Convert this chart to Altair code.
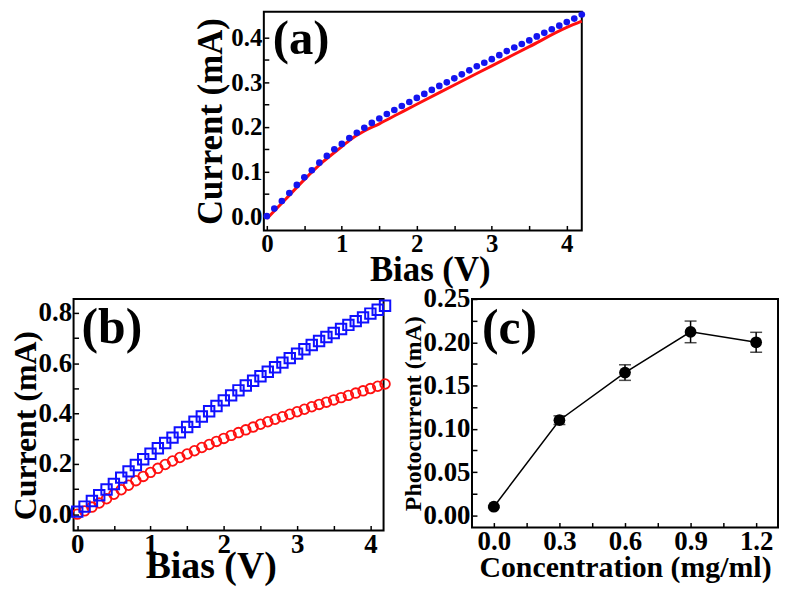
import altair as alt
import pandas as pd

FONT = "Liberation Serif"

# ---------------- Panel (a) data ----------------
a_bias = [0.0, 0.1, 0.2, 0.3, 0.4, 0.5, 0.6, 0.7, 0.8, 0.9, 1.0, 1.1, 1.2, 1.3, 1.4,
          1.5, 1.6, 1.7, 1.8, 1.9, 2.0, 2.1, 2.2, 2.3, 2.4, 2.5, 2.6, 2.7, 2.8, 2.9,
          3.0, 3.1, 3.2, 3.3, 3.4, 3.5, 3.6, 3.7, 3.8, 3.9, 4.0, 4.1, 4.2]
a_dots = [0.000, 0.017, 0.034, 0.052, 0.070, 0.087, 0.103, 0.120, 0.135, 0.150,
          0.162, 0.175, 0.187, 0.198, 0.209, 0.219, 0.229, 0.238, 0.247, 0.256,
          0.265, 0.274, 0.283, 0.292, 0.300, 0.309, 0.318, 0.327, 0.336, 0.344,
          0.352, 0.361, 0.370, 0.378, 0.386, 0.394, 0.403, 0.411, 0.419, 0.427,
          0.435, 0.443, 0.452]
a_fit_bias = [0.0, 0.25, 0.5, 0.75, 1.0, 1.15, 1.3, 1.5, 1.75, 2.0, 2.5, 3.0, 3.5, 4.0, 4.2]
a_fit = [-0.006, 0.038, 0.082, 0.122, 0.156, 0.176, 0.191, 0.207, 0.229, 0.251,
         0.294, 0.337, 0.380, 0.423, 0.437]

# ---------------- Panel (b) data ----------------
b_bias = a_bias
b_squares = [0.010, 0.030, 0.052, 0.075, 0.098, 0.120, 0.145, 0.170, 0.195, 0.218,
             0.240, 0.262, 0.283, 0.304, 0.325, 0.346, 0.367, 0.388, 0.409, 0.430,
             0.452, 0.472, 0.492, 0.511, 0.530, 0.548, 0.566, 0.584, 0.602, 0.620,
             0.638, 0.655, 0.672, 0.688, 0.704, 0.720, 0.736, 0.752, 0.767, 0.782,
             0.797, 0.812, 0.828]
b_circles = [0.000, 0.013, 0.028, 0.044, 0.061, 0.079, 0.097, 0.115, 0.133, 0.150,
             0.166, 0.182, 0.197, 0.211, 0.225, 0.239, 0.252, 0.265, 0.277, 0.289,
             0.301, 0.313, 0.324, 0.335, 0.346, 0.357, 0.367, 0.377, 0.387, 0.397,
             0.407, 0.417, 0.427, 0.436, 0.445, 0.454, 0.463, 0.472, 0.481, 0.490,
             0.499, 0.508, 0.517]

# ---------------- Panel (c) data ----------------
c_conc = [0.0, 0.3, 0.6, 0.9, 1.2]
c_photo = [0.010, 0.110, 0.165, 0.212, 0.200]
c_err = [0.001, 0.005, 0.009, 0.0125, 0.0115]

# tick values (major + minor)
a_xticks = [0, 0.5, 1, 1.5, 2, 2.5, 3, 3.5, 4]
a_yticks = [0, 0.05, 0.1, 0.15, 0.2, 0.25, 0.3, 0.35, 0.4]
b_xticks = [0, 0.5, 1, 1.5, 2, 2.5, 3, 3.5, 4]
b_yticks = [0, 0.1, 0.2, 0.3, 0.4, 0.5, 0.6, 0.7, 0.8]
c_xticks = [0, 0.15, 0.3, 0.45, 0.6, 0.75, 0.9, 1.05, 1.2]
c_yticks = [0, 0.025, 0.05, 0.075, 0.1, 0.125, 0.15, 0.175, 0.2, 0.225, 0.25]


def axis(values, expr, title, lsize, tsize, lpad, tpad, **kw):
    return alt.Axis(values=values, labelExpr=expr, title=title, grid=False,
                    domain=False, ticks=True, tickSize=5, offset=-5,
                    tickColor="black", tickWidth=1.5,
                    labelFont=FONT, labelFontWeight="bold", labelFontSize=lsize,
                    labelColor="black", labelPadding=lpad, labelAngle=0,
                    labelFlush=False, labelOverlap=False,
                    titleFont=FONT, titleFontWeight="bold", titleFontSize=tsize,
                    titleColor="black", titlePadding=tpad, **kw)


def panel_label(txt, x, y, size=50):
    return alt.Chart(pd.DataFrame({"t": [txt]})).mark_text(
        align="left", baseline="alphabetic", font=FONT, fontWeight="bold",
        fontSize=size, color="black").encode(x=alt.value(x), y=alt.value(y), text="t:N")


# ---------------- Panel (a) ----------------
aX = alt.X("x:Q", scale=alt.Scale(domain=[-0.04, 4.2], nice=False, zero=False),
           axis=axis(a_xticks, "datum.value % 1 == 0 ? format(datum.value, 'd') : ''",
                     "Bias (V)", 25, 35, 1, -4, titleX=167))
aY = alt.Y("y:Q", scale=alt.Scale(domain=[-0.032, 0.458], nice=False, zero=False),
           axis=axis(a_yticks, "round(datum.value*100) % 10 == 0 ? format(datum.value, '.1f') : ''",
                     "Current (mA)", 25, 35, 2, 2))

a_fit_df = pd.DataFrame({"x": a_fit_bias, "y": a_fit})
a_dot_df = pd.DataFrame({"x": a_bias, "y": a_dots})

a_line = alt.Chart(a_fit_df).mark_line(color="#ff1010", strokeWidth=3,
                                       interpolate="monotone").encode(x=aX, y=aY)
a_pts = alt.Chart(a_dot_df).mark_circle(color="#1414f0", size=45, opacity=1).encode(x=aX, y=aY)
panel_a = alt.layer(a_line, a_pts, panel_label("(a)", 9, 42, 49)).properties(width=320, height=220)

# ---------------- Panel (b) ----------------
bX = alt.X("x:Q", scale=alt.Scale(domain=[-0.05, 4.18], nice=False, zero=False),
           axis=axis(b_xticks, "datum.value % 1 == 0 ? format(datum.value, 'd') : ''",
                     "Bias (V)", 27, 38, 1, -10, titleX=138))
bY = alt.Y("y:Q", scale=alt.Scale(domain=[-0.065, 0.855], nice=False, zero=False),
           axis=axis(b_yticks, "round(datum.value*10) % 2 == 0 ? format(datum.value, '.1f') : ''",
                     "Current (mA)", 27, 32, 2, -4, titleY=127))

b_sq_df = pd.DataFrame({"x": b_bias, "y": b_squares})
b_ci_df = pd.DataFrame({"x": b_bias, "y": b_circles})

b_sq = alt.Chart(b_sq_df).mark_point(shape="square", filled=False, color="#1010ff",
                                     strokeWidth=2, size=110, opacity=1).encode(x=bX, y=bY)
b_ci = alt.Chart(b_ci_df).mark_point(shape="circle", filled=False, color="#ff1010",
                                     strokeWidth=1.8, size=95, opacity=1).encode(x=bX, y=bY)
panel_b = alt.layer(b_ci, b_sq, panel_label("(b)", 8, 44)).properties(width=312, height=233)

# ---------------- Panel (c) ----------------
c_df = pd.DataFrame({"x": c_conc, "y": c_photo, "err": c_err})
c_df["lo"] = c_df["y"] - c_df["err"]
c_df["hi"] = c_df["y"] + c_df["err"]

cscale_x = alt.Scale(domain=[-0.1, 1.3], nice=False, zero=False)
cscale_y = alt.Scale(domain=[-0.014, 0.25], nice=False, zero=False)
c_xaxis = axis(c_xticks, "round(datum.value*100) % 30 == 0 ? format(datum.value, '.1f') : ''",
               "Concentration (mg/ml)", 27, 30, 1, -2)
c_yaxis = axis(c_yticks, "round(datum.value*1000) % 50 == 0 ? format(datum.value, '.2f') : ''",
               "Photocurrent (mA)", 27, 24, 2, -2)
cX = alt.X("x:Q", scale=cscale_x, axis=c_xaxis)
cY = alt.Y("y:Q", scale=cscale_y, axis=c_yaxis)

base_c = alt.Chart(c_df)
c_line = base_c.mark_line(color="black", strokeWidth=1.5).encode(x=cX, y=cY)
c_rule = base_c.mark_rule(color="black", strokeWidth=1.5).encode(
    x=cX, y=alt.Y("lo:Q", scale=cscale_y, axis=c_yaxis), y2="hi:Q")
c_cap_lo = base_c.mark_tick(color="black", orient="horizontal", size=12, thickness=1.5).encode(
    x=cX, y=alt.Y("lo:Q", scale=cscale_y, axis=c_yaxis))
c_cap_hi = base_c.mark_tick(color="black", orient="horizontal", size=12, thickness=1.5).encode(
    x=cX, y=alt.Y("hi:Q", scale=cscale_y, axis=c_yaxis))
c_pts = base_c.mark_circle(color="black", size=140, opacity=1).encode(x=cX, y=cY)
panel_c = alt.layer(c_line, c_rule, c_cap_lo, c_cap_hi, c_pts,
                    panel_label("(c)", 10, 45)).properties(width=308, height=230)

bottom = alt.hconcat(panel_b, panel_c, spacing=4)
chart = alt.vconcat(panel_a, bottom, spacing=-4, center=True).properties(
    padding=0, background="white"
).configure_view(stroke="black", strokeWidth=2)

chart.save("out.html", embed_options={"renderer": "svg", "actions": False})
